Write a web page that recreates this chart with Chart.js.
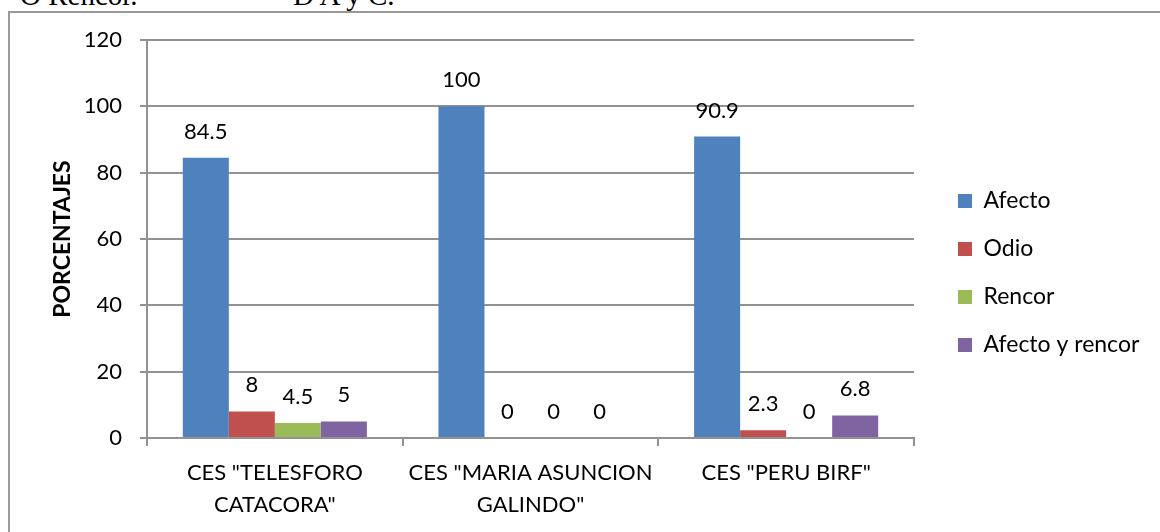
<!DOCTYPE html>
<html>
<head>
<meta charset="utf-8">
<script src="https://cdn.jsdelivr.net/npm/chart.js"></script>
<style>
  html, body { margin: 0; padding: 0; background: #fff; overflow: hidden; }
  #frame {
    position: absolute; left: 8px; top: 11px;
    width: 1200px; height: 600px;
    border: 2px solid #999;
  }
  .cut {
    position: absolute; top: -19px;
    font-family: "Liberation Serif", serif; font-size: 29px; line-height: 29px;
    color: #000; white-space: nowrap;
  }
  #chart { position: absolute; left: 0; top: 0; }
</style>
</head>
<body>
<div id="frame"></div>
<span class="cut" style="left:20px">O Rencor.</span>
<span class="cut" style="left:293px">D A y C.</span>
<canvas id="chart" width="1160" height="532"></canvas>

<script>
// data
const categories = [
    ['CES "TELESFORO', 'CATACORA"'],
    ['CES "MARIA ASUNCION', 'GALINDO"'],
    ['CES "PERU BIRF"']
];
const afecto = [84.5, 100, 90.9];
const odio = [8, 0, 2.3];
const rencor = [4.5, 0, 0];
const afectoYRencor = [5, 0, 6.8];
const yTicks = [0, 20, 40, 60, 80, 100, 120];

const FONT = 'Lato';
const GRID = '#929292';

/* =========================
   VALUE LABELS ABOVE BARS
========================= */
const valueLabels = {
    id: 'valueLabels',
    afterDatasetsDraw(chart) {
        const ctx = chart.ctx;
        ctx.save();
        ctx.font = '22px ' + FONT;
        ctx.fillStyle = '#000';
        ctx.textAlign = 'center';
        ctx.textBaseline = 'alphabetic';
        chart.data.datasets.forEach((ds, i) => {
            chart.getDatasetMeta(i).data.forEach((bar, j) => {
                ctx.fillText(String(ds.data[j]), bar.x, bar.y - 19);
            });
        });
        ctx.restore();
    }
};

/* legend sits a bit away from the plot, like the excel one */
const legendPlace = {
    id: 'legendPlace',
    beforeLayout(chart) {
        const lg = chart.legend;
        if (lg && !lg._patched) {
            const fit = lg.fit;
            lg.fit = function () { fit.call(this); this.width = 246; };
            lg._patched = true;
        }
    },
    afterLayout(chart) {
        const lg = chart.legend;
        lg.left += 19;
        lg.top -= 13;
        lg.bottom -= 13;
    }
};

new Chart(document.getElementById('chart').getContext('2d'), {
    type: 'bar',
    data: {
        labels: categories,
        datasets: [
            { label: 'Afecto', data: afecto, backgroundColor: '#4F81BD' },
            { label: 'Odio', data: odio, backgroundColor: '#C0504D' },
            { label: 'Rencor', data: rencor, backgroundColor: '#9BBB59' },
            { label: 'Afecto y rencor', data: afectoYRencor, backgroundColor: '#8064A2' }
        ]
    },
    options: {
        responsive: false,
        animation: false,
        devicePixelRatio: 1,
        layout: { padding: { left: 40, top: 40, right: 0, bottom: 0 } },
        datasets: { bar: { categoryPercentage: 0.72, barPercentage: 1 } },
        plugins: {
            legend: {
                position: 'right',
                labels: {
                    boxWidth: 14, boxHeight: 14, padding: 25,
                    color: '#000',
                    font: { family: FONT, size: 23 }
                }
            },
            tooltip: { enabled: false }
        },
        scales: {
            x: {
                grid: { drawOnChartArea: false, drawTicks: true, tickLength: 8, color: GRID, lineWidth: 2 },
                border: { color: GRID, width: 2 },
                ticks: {
                    color: '#000', padding: 11, maxRotation: 0, autoSkip: false,
                    font: { family: FONT, size: 22, lineHeight: 1.45 }
                },
                afterFit(scale) { scale.height = 94; }
            },
            y: {
                min: 0, max: 120,
                afterBuildTicks(scale) { scale.ticks = yTicks.map(v => ({ value: v })); },
                grid: { color: GRID, lineWidth: 2, tickLength: 7 },
                border: { color: GRID, width: 2 },
                ticks: {
                    color: '#000', padding: 18,
                    font: { family: FONT, size: 22 }
                },
                title: {
                    display: true, text: 'PORCENTAJES', color: '#000',
                    padding: { top: 9, bottom: 0 },
                    font: { family: FONT, size: 23, weight: 'bold' }
                },
                afterFit(scale) { scale.width = 107; }
            }
        }
    },
    plugins: [valueLabels, legendPlace]
});
</script>
</body>
</html>
